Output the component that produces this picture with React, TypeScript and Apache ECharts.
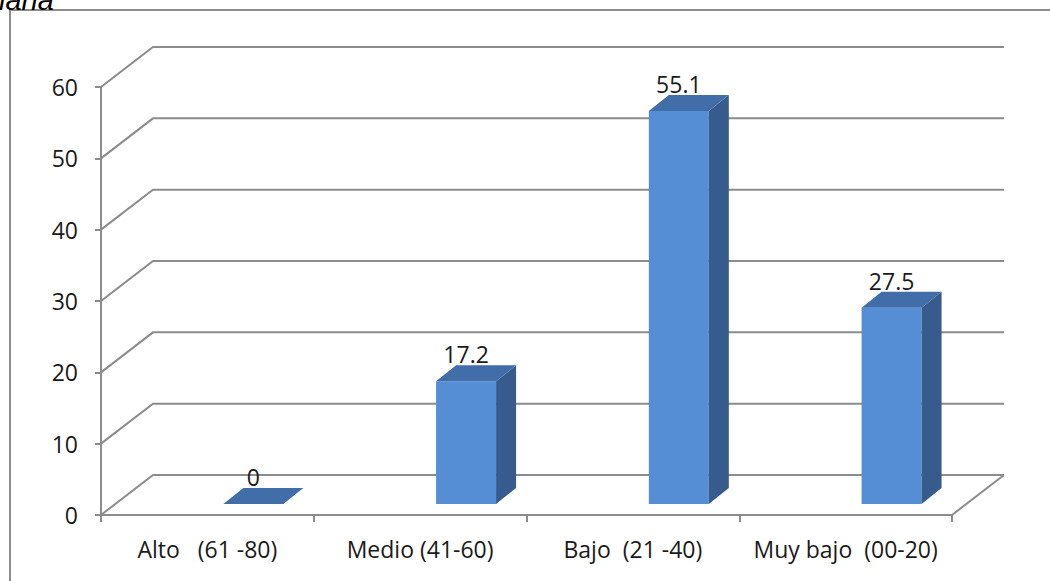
import React, { useEffect, useRef } from "react";
import * as echarts from "echarts";

// Category names and percentages per level
const categories = [
  "Alto\u00a0\u00a0\u00a0(61 -80)",
  "Medio (41-60)",
  "Bajo\u00a0\u00a0(21 -40)",
  "Muy bajo\u00a0\u00a0(00-20)",
];
const values = [0, 17.2, 55.1, 27.5];
const valueTicks = [0, 10, 20, 30, 40, 50, 60];
const titleFragment = "lana";

const GRAY = "#8c8c8c";
const TEXT = "#1a1a1a";
const FONT = "'Open Sans', 'Noto Sans', sans-serif";

// Oblique projection of the back wall relative to the front plane
const WALL_DX = 52;
const WALL_DY = -40;

// Bar placement (fractions of the category band) and 3D depth
const BAR_LEFT = 0.075;
const BAR_WIDTH = 0.282;
const BAR_DEPTH_X = 0.094;
const BAR_DEPTH_Y = -16;
const BAR_LIFT = -11;

const FRONT = "#558ED5";
const TOP = "#416DA8";
const SIDE = "#365B8C";

export default function App() {
  const ref = useRef<HTMLDivElement>(null);

  useEffect(() => {
    const chart = echarts.init(ref.current!, null, { renderer: "svg" });

    const gridSeries = {
      type: "custom",
      silent: true,
      z: 1,
      clip: false,
      data: valueTicks.map((v) => [0, v]),
      encode: { x: 0, y: 1 },
      renderItem: (params: any, api: any) => {
        const v = api.value(1);
        const cs = params.coordSys;
        const y = api.coord([0, v])[1];
        const left = cs.x;
        const right = cs.x + cs.width;
        const line = { stroke: GRAY, lineWidth: 2, fill: null };
        const children: any[] = [
          {
            type: "polyline",
            shape: {
              points: [
                [left, y],
                [left + WALL_DX, y + WALL_DY],
                [right + WALL_DX, y + WALL_DY],
              ],
            },
            style: line,
          },
        ];
        if (v === 0) {
          children.push({
            type: "line",
            shape: { x1: right, y1: y, x2: right + WALL_DX, y2: y + WALL_DY },
            style: line,
          });
        }
        return { type: "group", children };
      },
    };

    const barSeries = {
      type: "custom",
      z: 3,
      clip: false,
      data: values.map((v, i) => [i, v]),
      encode: { x: 0, y: 1 },
      renderItem: (params: any, api: any) => {
        const i = api.value(0);
        const v = api.value(1);
        const top = api.coord([i, v]);
        const base = api.coord([i, 0]);
        const band = api.size([1, 0])[0];
        const x0 = top[0] + band * BAR_LEFT;
        const w = band * BAR_WIDTH;
        const dx = band * BAR_DEPTH_X;
        const dy = BAR_DEPTH_Y;
        const yTop = top[1] + BAR_LIFT;
        const yBot = base[1] + BAR_LIFT;
        const children: any[] = [];
        if (yBot - yTop > 0.5) {
          children.push({
            type: "rect",
            shape: { x: x0, y: yTop, width: w, height: yBot - yTop },
            style: { fill: FRONT },
          });
          children.push({
            type: "polygon",
            shape: {
              points: [
                [x0 + w, yTop],
                [x0 + w + dx, yTop + dy],
                [x0 + w + dx, yBot + dy],
                [x0 + w, yBot],
              ],
            },
            style: { fill: SIDE },
          });
        }
        children.push({
          type: "polygon",
          shape: {
            points: [
              [x0, yTop],
              [x0 + dx, yTop + dy],
              [x0 + w + dx, yTop + dy],
              [x0 + w, yTop],
            ],
          },
          style: { fill: TOP },
        });
        children.push({
          type: "text",
          x: x0 + w / 2,
          y: yTop + dy - 11,
          style: {
            text: String(v),
            fill: TEXT,
            font: `23px ${FONT}`,
            align: "center",
            verticalAlign: "middle",
            textAlign: "center",
            textVerticalAlign: "middle",
          },
        });
        return { type: "group", children };
      },
    };

    chart.setOption({
      animation: false,
      backgroundColor: "#ffffff",
      textStyle: { fontFamily: FONT },
      grid: { left: 101, top: 87, width: 851, height: 428 },
      xAxis: {
        type: "category",
        data: categories,
        axisLine: { show: true, lineStyle: { color: GRAY, width: 2 } },
        axisTick: { show: true, interval: 0, length: 7, lineStyle: { color: GRAY, width: 2 } },
        axisLabel: { interval: 0, fontSize: 23, color: TEXT, margin: 22, fontFamily: FONT },
        splitLine: { show: false },
      },
      yAxis: {
        type: "value",
        min: 0,
        max: 60,
        interval: 10,
        axisLine: { show: true, lineStyle: { color: GRAY, width: 2 } },
        axisTick: { show: true, length: 6, lineStyle: { color: GRAY, width: 2 } },
        axisLabel: { fontSize: 23, color: TEXT, margin: 23, fontFamily: FONT },
        splitLine: { show: false },
      },
      graphic: [
        {
          type: "rect",
          silent: true,
          z: 0,
          shape: { x: 10, y: 10, width: 1100, height: 620 },
          style: { fill: null, stroke: GRAY, lineWidth: 2 },
        },
        {
          type: "text",
          silent: true,
          x: -1,
          y: 14,
          style: {
            text: titleFragment,
            fill: "#000",
            font: "italic 29px 'Liberation Sans', Arial, sans-serif",
            align: "left",
            verticalAlign: "bottom",
            textAlign: "left",
            textVerticalAlign: "bottom",
          },
        },
      ],
      series: [gridSeries, barSeries],
    });

    return () => chart.dispose();
  }, []);

  return (
    <div
      ref={ref}
      style={{ position: "fixed", left: 0, top: 0, width: 1050, height: 581, background: "#fff" }}
    />
  );
}
